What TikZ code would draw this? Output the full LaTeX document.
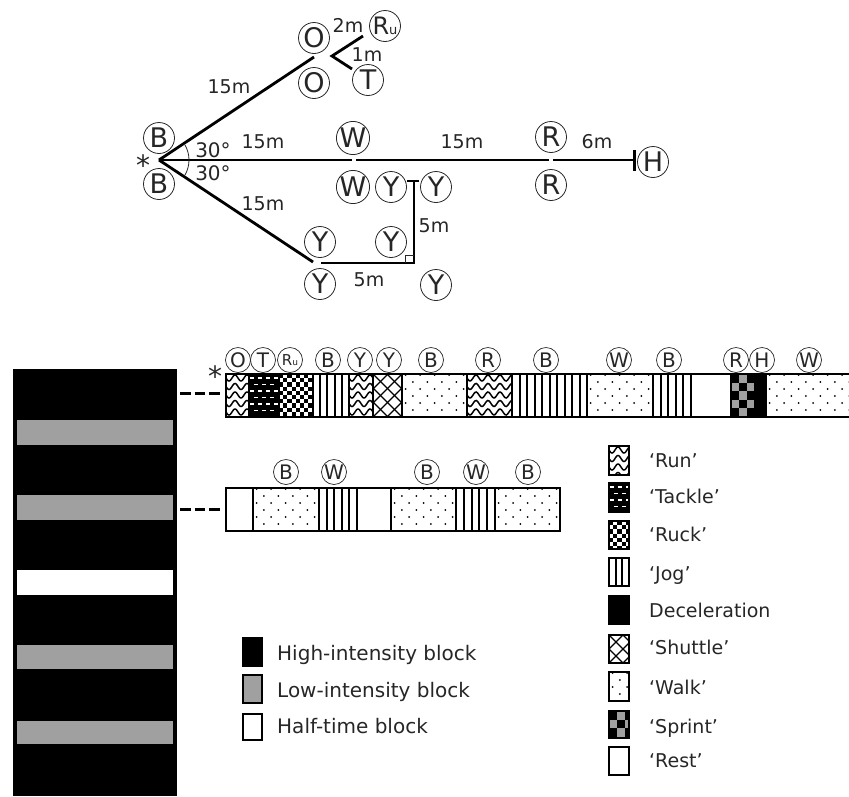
\documentclass[tikz,border=0pt]{standalone}
\usepackage{fontspec}
\setmainfont{DejaVu Sans}
\definecolor{ink}{HTML}{262626}
\definecolor{midgray}{HTML}{A0A0A0}
\newcommand{\fs}[1]{\fontsize{#1}{#1}\selectfont}
\newcommand{\patRest}{}
\newcommand{\patDec}{\fill[black] (\xa,\ya) rectangle (\xb,\yb);}
\newcommand{\patJog}{%
  \pgfmathsetmacro\nn{max(1,round((\xb-\xa)/7.3))}%
  \pgfmathsetmacro\ww{(\xb-\xa)/\nn}%
  \pgfmathtruncatemacro\nnn{\nn}%
  \foreach \i in {1,...,\nnn}{\pgfmathsetmacro\xx{round(\xa+\i*\ww)}\draw[line width=1.4pt] (\xx,\ya) -- (\xx,\yb);}}
\newcommand{\patRun}{%
  \foreach \i in {0,...,5}{\pgfmathsetmacro\yy{\ya+4+\i*8.5}%
    \draw[line width=1.5pt] plot[domain=\xa:\xb,samples=40,smooth] (\x,{\yy+3*sin(30*(\x-\xa))});}}
\newcommand{\patTackle}{%
  \fill[black] (\xa,\ya) rectangle (\xb,\yb);
  \foreach \i in {0,...,6}{\pgfmathsetmacro\yy{\ya+3+\i*6.5}%
    \foreach \j in {0,...,12}{\pgfmathsetmacro\xx{\xa+1+\j*8+mod(\i,2)*4}%
      \fill[white] (\xx,\yy) rectangle ++(4.2,1.6);}}}
\newcommand{\patRuck}{%
  \fill[white] (\xa,\ya) rectangle (\xb,\yb);
  \foreach \i in {0,...,10}{\foreach \j in {0,...,9}{%
    \pgfmathtruncatemacro\pp{mod(\i+\j,2)}%
    \ifnum\pp=0\relax
      \pgfmathsetmacro\xx{\xa+\j*4.2}\pgfmathsetmacro\yy{\ya+\i*4.2}%
      \fill[black] (\xx,\yy) rectangle ++(4.2,4.2);
    \fi}}}
\newcommand{\patShuttle}{%
  \foreach \i in {-3,...,6}{\pgfmathsetmacro\xx{\xa+\i*14}%
    \draw[line width=1.2pt] (\xx,\ya) -- ++(45,45);
    \draw[line width=1.2pt] (\xx,\yb) -- ++(45,-45);}}
\newcommand{\patWalk}{%
  \foreach \i in {0,...,6}{\pgfmathsetmacro\yy{\ya+1+\i*7}%
    \foreach \j in {0,...,6}{\pgfmathsetmacro\xx{\xa+(\j+.25)*14.5+mod(\i,2)*7.2}%
      \fill[black] (\xx,\yy) circle[radius=1];}}}
\newcommand{\patSprint}{%
  \foreach \i in {0,...,4}{\foreach \j in {0,...,2}{%
    \pgfmathtruncatemacro\pp{mod(\i+\j,2)}%
    \pgfmathsetmacro\xx{\xa+\j*8}\pgfmathsetmacro\yy{\ya+\i*8.6}%
    \ifnum\pp=0\relax\fill[black] (\xx,\yy) rectangle ++(8,8.6);
    \else\fill[midgray] (\xx,\yy) rectangle ++(8,8.6);\fi}}}
% type, x0, y0, x1, y1
\newcommand{\seg}[5]{%
  \def\xa{#2}\def\ya{#3}\def\xb{#4}\def\yb{#5}%
  \begin{scope}
    \clip (#2,#3) rectangle (#4,#5);
    \csname pat#1\endcsname
  \end{scope}
  \draw[line width=2pt] (#2,#3) rectangle (#4,#5);}
\tikzset{
  big/.style={circle,draw=ink,line width=.8pt,minimum size=31pt,inner sep=0pt,text=ink,font=\fs{27}},
  small/.style={circle,draw=ink,line width=.7pt,minimum size=25pt,inner sep=0pt,text=ink,font=\fs{20}},
  lab/.style={text=ink,font=\fs{19},inner sep=0pt},
  legend/.style={text=ink,font=\fs{20},inner sep=0pt,anchor=base west},
  legendb/.style={text=ink,font=\fs{19},inner sep=0pt,anchor=base west},
  route/.style={line width=2.8pt,black},
  keybox/.style={line width=2pt,draw=black}
}
\begin{document}
\begin{tikzpicture}[x=1pt,y=-1pt]
\useasboundingbox (0,0) rectangle (849,796);
% ---------- route ----------
\coordinate (apex) at (159,160);
\node[big] (Ob1) at (314,38) {O};
\node[big] (Ob2) at (314,83) {O};
\node[big] (Ru0) at (385,26) {\fs{24}R\fs{13}u};
\node[big] (T0) at (368,80) {T};
\node[big] (B1) at (159,138) {B};
\node[big] (B2) at (159,184) {B};
\node[big] (W1) at (353,138) {W};
\node[big] (W2) at (353,187) {W};
\node[big] (Y1) at (391,187) {Y};
\node[big] (Y2) at (436,187) {Y};
\node[big] (Y3) at (320,242) {Y};
\node[big] (Y4) at (391,242) {Y};
\node[big] (Y5) at (320,284) {Y};
\node[big] (Y6) at (436,285) {Y};
\node[big] (R1) at (551,137) {R};
\node[big] (R2) at (551,185) {R};
\node[big] (H0) at (653,162) {H};
\coordinate (upEnd) at (314,57);
\coordinate (vTip) at (332,56);
\coordinate (vUp) at (363,36);
\coordinate (vLow) at (352,69);
\coordinate (midA) at (352,160);
\coordinate (midB) at (356,160);
\coordinate (midC) at (549,160);
\coordinate (midD) at (553,160);
\coordinate (midE) at (634,160);
\coordinate (barT) at (634,150);
\coordinate (barB) at (634,171);
\coordinate (lowEnd) at (313,262);
\coordinate (hA) at (321,263);
\coordinate (corner) at (414,263);
\coordinate (vTop) at (414,181);
\coordinate (tbL) at (407,181);
\coordinate (tbR) at (419,181);
\draw[route] (apex) -- (upEnd);
\draw[route] (vUp) -- (vTip) -- (vLow);
\draw[route] (apex) -- (midA);
\draw[route] (midB) -- (midC);
\draw[route] (midD) -- (midE);
\draw[route,line width=3pt] (barT) -- (barB);
\draw[route] (apex) -- (lowEnd);
\draw[route] (hA) -- (corner) -- (vTop);
\draw[route] (tbL) -- (tbR);
\draw[line width=.7pt,ink] (405,263) |- (414,255);
\draw[line width=.8pt,ink] ([shift={(-30:30)}]apex) arc[start angle=-30,end angle=30,radius=30];
\node[lab] (l1) at (229,87) {15m};
\node[lab] (l2) at (263,142) {15m};
\node[lab] (l3) at (263,204) {15m};
\node[lab] (l4) at (462,142) {15m};
\node[lab] (l5) at (597,142) {6m};
\node[lab] (l6) at (434,226) {5m};
\node[lab] (l7) at (369,280) {5m};
\node[lab] (l8) at (348,25) {2m};
\node[lab] (l9) at (367,55) {1m};
\node[lab,font=\fs{20}] (a1) at (213,150) {30°};
\node[lab,font=\fs{20}] (a2) at (213,173) {30°};
\node[text=ink,font=\fs{28},inner sep=0pt] (star1) at (143,165) {*};
% ---------- left column ----------
\fill[black] (13,369) rectangle (177,796);
\fill[midgray] (17,420) rectangle (173,445);
\fill[midgray] (17,495) rectangle (173,520);
\fill[white] (17,570) rectangle (173,595);
\fill[midgray] (17,645) rectangle (173,669);
\fill[midgray] (17,721) rectangle (173,744);
\coordinate (d1a) at (180,393);
\coordinate (d1b) at (220,393);
\coordinate (d2a) at (180,509);
\coordinate (d2b) at (220,509);
\draw[line width=3pt,black,dash pattern=on 10.5pt off 4pt] (d1a) -- (d1b);
\draw[line width=3pt,black,dash pattern=on 10.5pt off 4pt] (d2a) -- (d2b);
% ---------- strip 1 ----------
\seg{Run}{226}{374}{249}{417}
\seg{Tackle}{249}{374}{279}{417}
\seg{Ruck}{279}{374}{313}{417}
\seg{Jog}{313}{374}{349}{417}
\seg{Run}{349}{374}{373}{417}
\seg{Shuttle}{373}{374}{402}{417}
\seg{Walk}{402}{374}{467}{417}
\seg{Run}{467}{374}{512}{417}
\seg{Jog}{512}{374}{587}{417}
\seg{Walk}{587}{374}{653}{417}
\seg{Jog}{653}{374}{691}{417}
\seg{Rest}{691}{374}{731}{417}
\seg{Sprint}{731}{374}{755}{417}
\seg{Dec}{755}{374}{766}{417}
\seg{Walk}{766}{374}{851}{417}
\node[small] (s1) at (238,360) {O};
\node[small] (s2) at (263,360) {T};
\node[small] (s3) at (290,360) {\fs{15}R\fs{9}u};
\node[small] (s4) at (328,360) {B};
\node[small] (s5) at (360,360) {Y};
\node[small] (s6) at (389,360) {Y};
\node[small] (s7) at (431,360) {B};
\node[small] (s8) at (488,360) {R};
\node[small] (s9) at (546,360) {B};
\node[small] (s10) at (619,360) {W};
\node[small] (s11) at (669,360) {B};
\node[small] (s12) at (736,360) {R};
\node[small] (s13) at (762,360) {H};
\node[small] (s14) at (809,360) {W};
\node[text=ink,font=\fs{28},inner sep=0pt] (star2) at (215,376) {*};
% ---------- strip 2 ----------
\seg{Rest}{226}{488}{253}{531}
\seg{Walk}{253}{488}{319}{531}
\seg{Jog}{319}{488}{357}{531}
\seg{Rest}{357}{488}{391}{531}
\seg{Walk}{391}{488}{456}{531}
\seg{Jog}{456}{488}{495}{531}
\seg{Walk}{495}{488}{560}{531}
\node[small] (t1) at (286,472) {B};
\node[small] (t2) at (334,472) {W};
\node[small] (t3) at (427,472) {B};
\node[small] (t4) at (476,472) {W};
\node[small] (t5) at (528,472) {B};
% ---------- block legend ----------
\draw[keybox,fill=black] (243,638) rectangle (262,666);
\draw[keybox,fill=midgray] (243,675) rectangle (262,703);
\draw[keybox,fill=white] (243,714) rectangle (262,740);
\node[legend] (k1) at (277,660) {High-intensity block};
\node[legend] (k2) at (277,697) {Low-intensity block};
\node[legend] (k3) at (277,733) {Half-time block};
% ---------- activity legend ----------
\seg{Run}{609}{446}{629}{475}
\seg{Tackle}{609}{483}{629}{512}
\seg{Ruck}{609}{521}{629}{549}
\seg{Jog}{609}{558}{629}{586}
\seg{Dec}{609}{596}{629}{624}
\seg{Shuttle}{609}{635}{629}{663}
\seg{Walk}{609}{672}{629}{701}
\seg{Sprint}{609}{711}{629}{738}
\seg{Rest}{609}{747}{629}{775}
\node[legendb] (m1) at (649,467) {‘Run’};
\node[legendb] (m2) at (649,503) {‘Tackle’};
\node[legendb] (m3) at (649,541) {‘Ruck’};
\node[legendb] (m4) at (649,580) {‘Jog’};
\node[legendb] (m5) at (649,617) {Deceleration};
\node[legendb] (m6) at (649,654) {‘Shuttle’};
\node[legendb] (m7) at (649,694) {‘Walk’};
\node[legendb] (m8) at (649,733) {‘Sprint’};
\node[legendb] (m9) at (649,767) {‘Rest’};
\end{tikzpicture}
\end{document}
